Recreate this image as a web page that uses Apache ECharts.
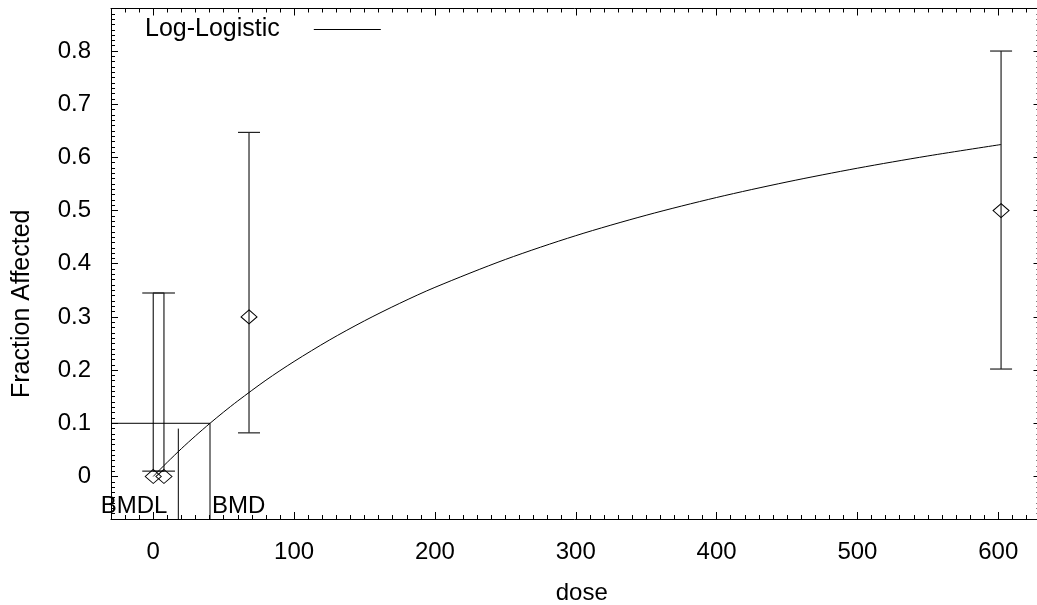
<!DOCTYPE html>
<html><head><meta charset="utf-8">
<script src="https://cdn.jsdelivr.net/npm/echarts@6/dist/echarts.min.js"></script>
<style>html,body{margin:0;padding:0;background:#fff}#c{width:1037px;height:605px}</style>
</head><body><div id="c"></div>
<script>
// ---- data ----
const doses = [0, 7.6, 68, 602];
const fractions = [0, 0, 0.3, 0.5];
const lowerCI = [0.01, 0.01, 0.082, 0.202];
const upperCI = [0.345, 0.345, 0.647, 0.8];
const curveDoses = [0, 5, 10, 20, 30, 40.3, 50, 60, 80, 100, 125, 150, 175, 200, 250, 300, 350, 400, 450, 500, 550, 602];
const curveFractions = [0, 0.0136, 0.0268, 0.0523, 0.0764, 0.1, 0.1212, 0.142, 0.181, 0.2162, 0.2564, 0.2927, 0.3256, 0.3556, 0.408, 0.4528, 0.4912, 0.5246, 0.5538, 0.5797, 0.6027, 0.6242];
const bmd = 40.3;
const bmdl = 17.8;
const bmr = 0.1;
const bmdlTop = 0.09;
const xTickValues = [0, 100, 200, 300, 400, 500, 600];
const yTickValues = [0, 0.1, 0.2, 0.3, 0.4, 0.5, 0.6, 0.7, 0.8];
const xRange = [-30, 630];
const yRange = [-0.08, 0.88];
const xMinorStep = 10;
const yMinorStep = 0.01;

const FONT = "'Liberation Sans', Arial, sans-serif";
const chart = echarts.init(document.getElementById('c'));

function majorX(pos, showLabels, extra) {
  return Object.assign({
    type: 'value', position: pos, min: xRange[0], max: xRange[1],
    axisLine: { show: true, onZero: false, lineStyle: { color: '#000', width: 1 } },
    axisTick: { show: true, inside: true, length: 7, customValues: xTickValues, lineStyle: { color: '#000' } },
    axisLabel: showLabels ? { show: true, customValues: xTickValues, margin: 21, fontSize: 24, color: '#000', fontFamily: FONT } : { show: false },
    splitLine: { show: false }
  }, extra || {});
}
function minorX(pos) {
  return {
    type: 'value', position: pos, min: xRange[0], max: xRange[1], interval: xMinorStep,
    axisLine: { show: false, onZero: false }, axisLabel: { show: false }, splitLine: { show: false },
    axisTick: { show: true, inside: true, length: 4, lineStyle: { color: '#000' } }
  };
}
function majorY(pos, showLabels, extra) {
  return Object.assign({
    type: 'value', position: pos, min: yRange[0], max: yRange[1],
    axisLine: { show: true, onZero: false, lineStyle: { color: '#000', width: 1 } },
    axisTick: { show: true, inside: true, length: 7, customValues: yTickValues, lineStyle: { color: '#000' } },
    axisLabel: showLabels ? { show: true, customValues: yTickValues, margin: 20, fontSize: 24, color: '#000', fontFamily: FONT } : { show: false },
    splitLine: { show: false }
  }, extra || {});
}
function minorY(pos) {
  return {
    type: 'value', position: pos, min: yRange[0], max: yRange[1], interval: yMinorStep,
    axisLine: { show: false, onZero: false }, axisLabel: { show: false }, splitLine: { show: false },
    axisTick: { show: true, inside: true, length: 4, lineStyle: { color: '#000' } }
  };
}

const option = {
  backgroundColor: '#fff',
  animation: false,
  grid: { left: 111, top: 8.5, width: 929.5, height: 510.5, containLabel: false, outerBoundsMode: 'none' },
  legend: {
    left: 145, top: 17, padding: 0, align: 'right',
    itemWidth: 67, itemHeight: 1,
    data: [{ name: 'Log-Logistic', icon: 'rect' }],
    textStyle: { fontSize: 25, color: '#000', fontFamily: FONT, padding: [0, 29, 0, 0] }
  },
  xAxis: [
    majorX('bottom', true, { name: 'dose', nameLocation: 'middle', nameGap: 62,
      nameTextStyle: { fontSize: 24, color: '#000', fontFamily: FONT, padding: [0, 0, 0, 12] } }),
    minorX('bottom'),
    majorX('top', false),
    minorX('top')
  ],
  yAxis: [
    majorY('left', true, { name: 'Fraction Affected', nameLocation: 'middle', nameGap: 76,
      nameTextStyle: { fontSize: 25, color: '#000', fontFamily: FONT, padding: [0, 80, 0, 0] } }),
    minorY('left'),
    majorY('right', false),
    minorY('right')
  ],
  series: [
    {
      name: 'Log-Logistic', type: 'line', xAxisIndex: 0, yAxisIndex: 0,
      data: curveDoses.map((d, i) => [d, curveFractions[i]]),
      smooth: 0.3, showSymbol: false, symbol: 'none',
      lineStyle: { color: '#000', width: 1 }, itemStyle: { color: '#000' }
    },
    {
      name: 'errorbars', type: 'custom', xAxisIndex: 0, yAxisIndex: 0,
      data: doses.map((d, i) => [d, lowerCI[i], upperCI[i]]),
      renderItem: function (params, api) {
        const x = api.value(0);
        const lo = api.coord([x, api.value(1)]);
        const hi = api.coord([x, api.value(2)]);
        const w = 11;
        const st = { stroke: '#222', lineWidth: 1.2 };
        return { type: 'group', children: [
          { type: 'line', shape: { x1: lo[0], y1: lo[1], x2: hi[0], y2: hi[1] }, style: st },
          { type: 'line', shape: { x1: lo[0] - w, y1: lo[1], x2: lo[0] + w, y2: lo[1] }, style: st },
          { type: 'line', shape: { x1: hi[0] - w, y1: hi[1], x2: hi[0] + w, y2: hi[1] }, style: st }
        ] };
      }
    },
    {
      name: 'observed', type: 'scatter', xAxisIndex: 0, yAxisIndex: 0,
      data: doses.map((d, i) => [d, fractions[i]]),
      symbol: 'diamond', symbolSize: [16, 14],
      itemStyle: { color: 'rgba(0,0,0,0)', borderColor: '#000', borderWidth: 1, opacity: 1 }
    },
    {
      name: 'bmdLines', type: 'line', xAxisIndex: 0, yAxisIndex: 0,
      data: [[xRange[0], bmr], [bmd, bmr], [bmd, yRange[0]]],
      showSymbol: false, symbol: 'none', lineStyle: { color: '#000', width: 1 }
    },
    {
      name: 'bmdlLine', type: 'line', xAxisIndex: 0, yAxisIndex: 0,
      data: [[bmdl, yRange[0]], [bmdl, bmdlTop]],
      showSymbol: false, symbol: 'none', lineStyle: { color: '#000', width: 1 }
    },
    {
      name: 'bmdLabels', type: 'scatter', xAxisIndex: 0, yAxisIndex: 0,
      symbolSize: 0,
      data: [
        { value: [bmdl, -0.0555], label: { show: true, position: 'left', distance: 11, formatter: 'BMDL', color: '#000', fontSize: 24, fontFamily: FONT } },
        { value: [bmd, -0.0555], label: { show: true, position: 'right', distance: 2, formatter: 'BMD', color: '#000', fontSize: 24, fontFamily: FONT } }
      ],
      label: { fontSize: 24, color: '#000', fontFamily: FONT },
      itemStyle: { color: 'rgba(0,0,0,0)', opacity: 1 }
    }
  ]
};
chart.setOption(option);
</script>
</body></html>
